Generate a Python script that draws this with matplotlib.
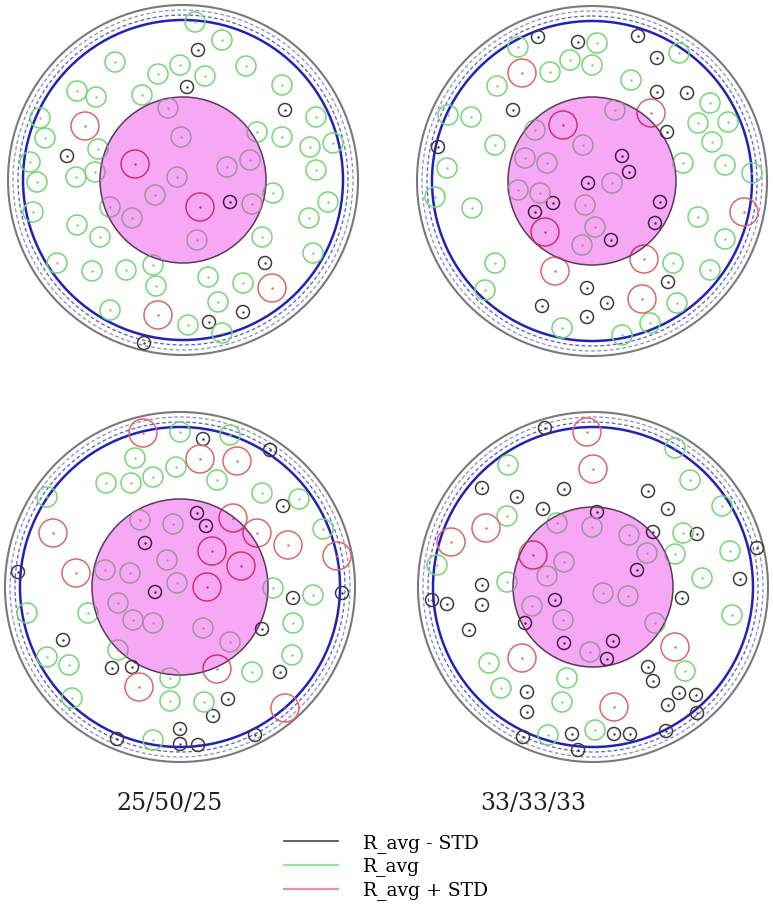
import matplotlib.pyplot as plt
import numpy as np
from matplotlib.patches import Circle
from matplotlib.collections import PatchCollection
from matplotlib.lines import Line2D

# labels
panel_labels = ['25/50/25', '33/33/33']
series_names = ['R_avg - STD', 'R_avg', 'R_avg + STD']

# panel centres and radii, measured in image pixels
panel_centres = [(183, 180), (592, 181), (180, 587), (593, 587)]
outer_radii = [175, 175, 175, 175]
core_radii = [83, 84, 88, 80]

# fibre centres (image pixels) per panel, split by fibre size class
tl_black = [(198, 50), (187, 87), (285, 110), (67, 156), (230, 202), (265, 263), (243, 312),
            (209, 322), (144, 343)]
tl_green = [(195, 22), (222, 40), (115, 62), (158, 74), (180, 65), (205, 76), (246, 66), (282, 85),
            (77, 91), (96, 97), (142, 95), (168, 108), (316, 117), (40, 118), (45, 138), (257, 132),
            (282, 137), (310, 147), (333, 143), (181, 137), (98, 149), (30, 162), (316, 170),
            (76, 177), (95, 172), (177, 177), (227, 167), (250, 160), (37, 182), (155, 195),
            (273, 193), (328, 202), (33, 212), (110, 207), (132, 218), (252, 204), (309, 218),
            (77, 225), (100, 237), (197, 240), (262, 237), (313, 253), (57, 263), (92, 271),
            (126, 270), (153, 265), (208, 277), (243, 283), (156, 286), (110, 310), (218, 302),
            (188, 325), (222, 333)]
tl_red = [(85, 126), (135, 164), (200, 207), (272, 288), (158, 315)]

tr_black = [(538, 37), (578, 42), (638, 36), (657, 58), (657, 92), (687, 93), (513, 110), (667, 132),
            (438, 147), (622, 156), (629, 172), (588, 183), (553, 203), (535, 212), (660, 202),
            (655, 223), (611, 240), (668, 282), (587, 288), (542, 306), (607, 303), (587, 317)]
tr_green = [(518, 47), (597, 43), (570, 60), (592, 65), (550, 72), (497, 86), (631, 80), (679, 53),
            (710, 103), (698, 123), (728, 122), (712, 142), (471, 117), (448, 115), (495, 145),
            (447, 168), (683, 163), (725, 165), (752, 173), (615, 110), (535, 130), (583, 145),
            (525, 158), (547, 163), (435, 197), (472, 208), (518, 190), (540, 193), (585, 205),
            (595, 227), (582, 245), (612, 183), (698, 217), (725, 239), (495, 263), (673, 263),
            (710, 270), (485, 290), (677, 303), (562, 328), (650, 323), (622, 335)]
tr_red = [(522, 73), (651, 113), (563, 125), (744, 212), (545, 232), (644, 259), (555, 271), (642, 299)]

bl_black = [(203, 439), (270, 450), (283, 506), (197, 513), (206, 526), (145, 543), (18, 572),
            (155, 592), (293, 598), (342, 593), (262, 629), (63, 640), (112, 668), (132, 667),
            (280, 672), (228, 699), (213, 716), (180, 729), (117, 739), (180, 744), (198, 745),
            (255, 735)]
bl_green = [(180, 432), (230, 435), (135, 458), (106, 483), (131, 483), (153, 477), (176, 467),
            (217, 480), (262, 493), (299, 499), (47, 497), (323, 529), (140, 520), (173, 524),
            (167, 560), (105, 570), (130, 573), (88, 613), (273, 588), (313, 595), (27, 613),
            (293, 623), (47, 657), (69, 665), (292, 655), (252, 672), (118, 650), (170, 678),
            (170, 701), (204, 702), (72, 698), (153, 740), (118, 603), (133, 620), (153, 623),
            (203, 628), (230, 642), (177, 583)]
bl_red = [(143, 433), (200, 459), (237, 461), (53, 533), (233, 518), (257, 533), (288, 545),
          (337, 556), (212, 551), (241, 566), (76, 573), (207, 587), (217, 669), (139, 687), (285, 708)]

br_black = [(545, 428), (482, 488), (517, 497), (564, 489), (543, 509), (597, 512), (648, 491),
            (668, 509), (653, 532), (697, 534), (757, 548), (637, 570), (740, 579), (482, 585),
            (432, 600), (447, 604), (482, 605), (555, 600), (682, 598), (469, 630), (525, 623),
            (564, 643), (613, 641), (607, 659), (648, 667), (653, 681), (679, 693), (696, 695),
            (668, 705), (527, 692), (527, 712), (572, 734), (614, 734), (630, 734), (666, 731),
            (697, 713), (523, 737), (578, 750)]
br_green = [(508, 465), (675, 448), (690, 480), (722, 506), (507, 516), (683, 533), (675, 554),
            (730, 551), (702, 578), (437, 565), (507, 582), (557, 523), (592, 527), (629, 535),
            (647, 553), (564, 562), (547, 576), (732, 615), (489, 663), (501, 688), (567, 678),
            (562, 702), (685, 671), (548, 735), (595, 730), (532, 606), (563, 620), (603, 593),
            (628, 596), (590, 652), (655, 623)]
br_red = [(587, 432), (593, 469), (486, 528), (451, 542), (533, 555), (522, 658), (675, 647), (614, 707)]

panels = [(tl_black, tl_green, tl_red), (tr_black, tr_green, tr_red),
          (bl_black, bl_green, bl_red), (br_black, br_green, br_red)]

# styling
fibre_r = [6.5, 10, 14]
fibre_col = ['#3c3c3c', '#72d872', '#e06666']
fibre_col_core = ['#4a1c4a', '#a094a0', '#d6306c']   # how they look under the pink core
core_fill = '#f7a8f5'

W, H = 773, 913
fig = plt.figure(figsize=(W / 100, H / 100), dpi=100)
ax = fig.add_axes([0, 0, 1, 1])
ax.set_xlim(0, W)
ax.set_ylim(H, 0)
ax.set_aspect('equal')
ax.axis('off')


def draw_panel(centre, r_out, r_core, fibres):
    ax.add_patch(Circle(centre, r_out, fill=False, ec='#7a7a7a', lw=1.5, zorder=1))
    ax.add_patch(Circle(centre, r_out - 5, fill=False, ec='#8c8cc8', lw=0.9, ls=(0, (3, 2)), zorder=1))
    ax.add_patch(Circle(centre, r_out - 10, fill=False, ec='#5a5ad2', lw=0.9, ls=(0, (3, 2)), zorder=1))
    ax.add_patch(Circle(centre, r_out - 15, fill=False, ec='#2222bb', lw=1.8, zorder=1))

    core = Circle(centre, r_core, fc=core_fill, ec='#5a3a5a', lw=1.1, zorder=3)
    ax.add_patch(core)

    for pts, r, col, col_in in zip(fibres, fibre_r, fibre_col, fibre_col_core):
        pts = np.array(pts, dtype=float)
        # normal fibres
        ax.add_collection(PatchCollection([Circle(p, r) for p in pts], facecolor='none',
                                          edgecolor=col, lw=1.1, zorder=2))
        ax.scatter(pts[:, 0], pts[:, 1], s=3, color=col, lw=0, zorder=2)
        # tinted copies seen through the core
        pc = PatchCollection([Circle(p, r) for p in pts], facecolor='none',
                             edgecolor=col_in, lw=1.1, zorder=4)
        ax.add_collection(pc)
        pc.set_clip_path(core)
        sc = ax.scatter(pts[:, 0], pts[:, 1], s=3, color=col_in, lw=0, zorder=4)
        sc.set_clip_path(core)


for centre, r_out, r_core, fibres in zip(panel_centres, outer_radii, core_radii, panels):
    draw_panel(centre, r_out, r_core, fibres)

ax.text(170, 803, panel_labels[0], ha='center', va='center', family='DejaVu Serif',
        fontsize=17, color='#222222')
ax.text(533, 803, panel_labels[1], ha='center', va='center', family='DejaVu Serif',
        fontsize=17, color='#222222')

handles = [Line2D([], [], color='#555555', lw=1.3),
           Line2D([], [], color='#9ee39e', lw=1.6),
           Line2D([], [], color='#e593ab', lw=1.6)]
fig.legend(handles, series_names, loc='center', bbox_to_anchor=(386 / W, 1 - 867 / H),
           frameon=False, prop={'family': 'DejaVu Serif', 'size': 13.5},
           handlelength=2.9, handletextpad=1.3, labelspacing=0.25)

fig.savefig('out.png', dpi=100)
